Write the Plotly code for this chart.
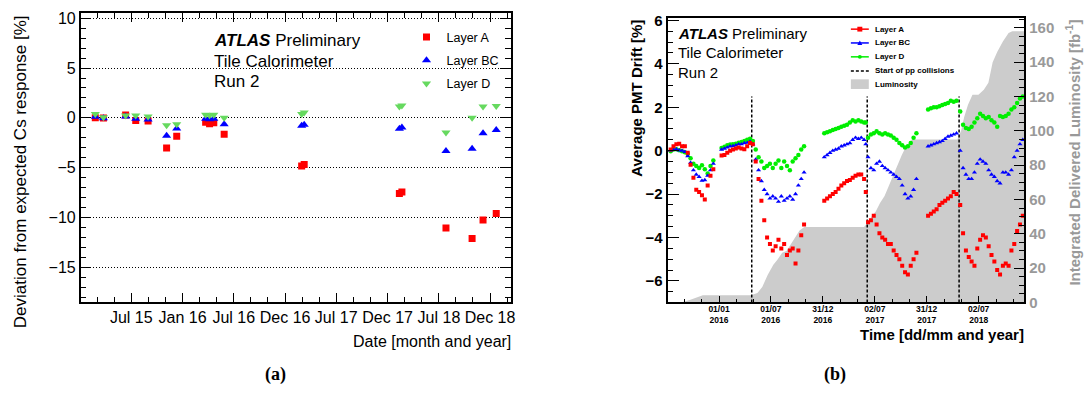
import plotly.graph_objects as go
import pandas as pd

W, H = 1089, 397
FONT = "Liberation Sans, Arial, Helvetica, sans-serif"
SERIF = "Liberation Serif, Times New Roman, serif"

def px(x):
    return x / W

def py(y):
    return 1 - y / H

# ---------------- Panel (a): Cs scans ----------------
cs_dates = ["2015-02-24", "2015-03-25", "2015-06-12", "2015-07-18", "2015-08-31",
            "2015-11-05", "2015-12-11", "2016-03-23", "2016-04-06", "2016-04-21",
            "2016-05-28", "2017-02-28", "2017-03-09", "2018-02-11", "2018-02-20",
            "2018-07-27", "2018-10-28", "2018-12-06", "2019-01-22"]
cs_layer_a = [0.0, -0.02, 0.29, -0.26, -0.32, -3.03, -1.84, -0.45, -0.58, -0.48,
              -1.65, -4.84, -4.68, -7.58, -7.45, -11.05, -12.1, -10.26, -9.6]
cs_layer_bc = [0.12, -0.05, 0.13, -0.1, -0.16, -1.8, -1.06, -0.08, -0.15, -0.1,
               -0.65, -0.8, -0.68, -1.1, -0.97, -3.32, -3.1, -1.55, -1.23]
cs_layer_d = [0.39, 0.06, 0.23, 0.23, 0.13, -0.74, -0.65, 0.32, 0.25, 0.3,
              0.0, 0.39, 0.55, 1.13, 1.23, -1.48, 0.0, 1.13, 1.19]

a_tick_dates = ["2015-07-02", "2016-01-01", "2016-07-01", "2016-12-31",
                "2017-07-01", "2017-12-31", "2018-07-02", "2018-12-31"]
a_tick_labels = ["Jul 15", "Jan 16", "Jul 16", "Dec 16", "Jul 17", "Dec 17", "Jul 18", "Dec 18"]
a_x_range = ["2015-01-03", "2019-03-16"]
a_y_range = [-18.5, 10.55]
a_y_ticks = [-15, -10, -5, 0, 5, 10]

# ---------------- Panel (b): laser PMT drift ----------------
b_dates = [
    # 2015
    "2015-07-15", "2015-07-25", "2015-08-04", "2015-08-14", "2015-08-24", "2015-09-03",
    "2015-09-13", "2015-09-23", "2015-10-03", "2015-10-13", "2015-10-23", "2015-11-02",
    "2015-11-12", "2015-11-22", "2015-12-02", "2015-12-12",
    # early 2016
    "2016-01-10", "2016-01-20", "2016-01-30", "2016-02-09", "2016-02-19", "2016-02-29",
    "2016-03-10", "2016-03-20", "2016-03-30", "2016-04-09", "2016-04-19",
    # 2016 run
    "2016-04-29", "2016-05-09", "2016-05-19", "2016-05-29", "2016-06-08", "2016-06-18",
    "2016-06-28", "2016-07-08", "2016-07-18", "2016-07-28", "2016-08-07", "2016-08-17",
    "2016-08-27", "2016-09-06", "2016-09-16", "2016-09-26", "2016-10-06", "2016-10-16",
    "2016-10-26",
    # early 2017
    "2017-01-05", "2017-01-15", "2017-01-25", "2017-02-04", "2017-02-14", "2017-02-24",
    "2017-03-06", "2017-03-16", "2017-03-26", "2017-04-05", "2017-04-15", "2017-04-25",
    "2017-05-05", "2017-05-15", "2017-05-25", "2017-05-31",
    # 2017 run
    "2017-06-08", "2017-06-18", "2017-06-28", "2017-07-08", "2017-07-18", "2017-07-28",
    "2017-08-07", "2017-08-17", "2017-08-27", "2017-09-06", "2017-09-16", "2017-09-26",
    "2017-10-06", "2017-10-16", "2017-10-26", "2017-11-05", "2017-11-15", "2017-11-25",
    # early 2018
    "2018-01-05", "2018-01-15", "2018-01-25", "2018-02-04", "2018-02-14", "2018-02-24",
    "2018-03-06", "2018-03-16", "2018-03-26", "2018-04-05", "2018-04-15",
    # 2018 run
    "2018-04-28", "2018-05-08", "2018-05-18", "2018-05-28", "2018-06-07", "2018-06-17",
    "2018-06-27", "2018-07-07", "2018-07-17", "2018-07-27", "2018-08-06", "2018-08-16",
    "2018-08-26", "2018-09-05", "2018-09-15", "2018-09-25", "2018-10-05", "2018-10-15",
    "2018-10-25", "2018-11-04", "2018-11-14", "2018-11-24", "2018-12-04",
]
b_layer_a = [
    0.05, 0.2, 0.3, 0.32, 0.2, 0.2, -0.1, -0.65, -1.25, -1.8, -1.9, -2.05, -2.25, -1.6, -1.15, -0.85,
    -0.22, -0.2, -0.1, 0.0, 0.05, 0.1, 0.15, 0.1, 0.07, 0.2, 0.35,
    0.3, -0.5, -1.3, -2.3, -3.2, -4.0, -4.3, -4.6, -4.4, -4.1, -4.5, -4.3, -4.8, -4.6, -4.5, -5.2, -4.6, -3.9, -3.4,
    -2.3, -2.2, -2.1, -2.0, -1.9, -1.75, -1.6, -1.5, -1.4, -1.35, -1.25, -1.15, -1.1, -1.1, -1.3, -1.9,
    -3.3, -3.2, -3.0, -3.4, -3.8, -4.0, -4.1, -4.3, -4.3, -4.6, -4.8, -5.0, -5.3, -5.6, -5.7, -5.3, -5.0, -4.7,
    -3.0, -2.9, -2.8, -2.7, -2.5, -2.4, -2.3, -2.2, -2.1, -1.9, -2.0,
    -2.5, -3.8, -4.6, -4.9, -5.1, -5.3, -4.5, -4.1, -3.9, -4.0, -4.4, -4.8, -5.1, -5.5, -5.7, -5.3, -5.2, -5.3, -4.6, -4.3, -3.7, -3.4, -3.0,
]
b_layer_bc = [
    0.0, 0.05, 0.07, 0.02, 0.0, -0.05, -0.25, -0.55, -0.9, -1.1, -1.2, -1.38, -1.35, -1.15, -0.9, -0.6,
    0.05, 0.1, 0.15, 0.2, 0.22, 0.25, 0.3, 0.3, 0.35, 0.37, 0.42,
    0.3, -0.4, -0.9, -1.4, -1.8, -2.0, -2.2, -2.1, -2.2, -2.35, -2.1, -2.3, -2.2, -2.1, -2.25, -2.0, -1.6, -1.3, -1.0,
    -0.3, -0.2, -0.1, 0.0, 0.05, 0.1, 0.2, 0.25, 0.3, 0.35, 0.5, 0.6, 0.55, 0.6, 0.5, 0.3,
    -0.3, -0.8, -0.9, -0.6, -0.5, -0.7, -0.8, -0.9, -1.0, -1.1, -1.2, -1.3, -1.6, -2.0, -2.2, -2.1, -1.8, -1.3,
    0.2, 0.25, 0.3, 0.35, 0.4, 0.45, 0.55, 0.65, 0.7, 0.75, 0.8,
    0.0, -0.8, -1.1, -1.3, -1.3, -1.0, -0.6, -0.4, -0.5, -0.6, -0.9, -1.1, -1.2, -1.4, -1.5, -1.0, -1.0, -1.1, -0.9, -0.3, 0.0, 0.3, 0.5,
]
b_layer_d = [
    -0.03, 0.05, 0.07, 0.02, -0.03, -0.07, -0.15, -0.35, -0.6, -0.7, -0.8, -0.67, -0.85, -1.05, -0.7, -0.45,
    0.12, 0.18, 0.25, 0.28, 0.3, 0.32, 0.37, 0.4, 0.45, 0.5, 0.55,
    0.45, 0.05, -0.3, -0.5, -0.8, -0.7, -0.6, -0.8, -0.6, -0.45, -0.8, -0.5, -0.7, -0.9, -0.5, -0.35, -0.2, 0.05, 0.2,
    0.8, 0.85, 0.9, 0.95, 1.0, 1.05, 1.1, 1.15, 1.2, 1.3, 1.4, 1.35, 1.4, 1.35, 1.3, 1.3,
    0.6, 0.75, 0.8, 0.9, 0.8, 0.75, 0.8, 0.75, 0.7, 0.6, 0.5, 0.35, 0.25, 0.15, 0.2, 0.35, 0.6, 0.8,
    1.9, 1.95, 2.0, 2.0, 2.05, 2.1, 2.15, 2.2, 2.3, 2.25, 2.3,
    1.8, 1.2, 1.05, 1.0, 1.1, 1.3, 1.5, 1.7, 1.6, 1.5, 1.55, 1.4, 1.3, 1.1, 1.6, 1.55, 1.6, 1.7, 1.9, 2.0, 2.2, 2.4, 2.5,
]

lumi_dates = ["2015-07-04", "2015-08-20", "2015-09-20", "2015-10-20", "2015-11-05", "2016-04-22",
              "2016-05-15", "2016-06-01", "2016-06-20", "2016-07-10", "2016-07-25", "2016-08-10",
              "2016-08-25", "2016-09-10", "2016-09-25", "2016-10-10", "2016-10-27", "2017-05-25",
              "2017-06-05", "2017-06-20", "2017-07-05", "2017-07-20", "2017-08-05", "2017-08-20",
              "2017-09-05", "2017-09-20", "2017-10-05", "2017-10-20", "2017-11-10", "2018-04-18",
              "2018-05-01", "2018-05-12", "2018-05-25", "2018-06-10", "2018-07-01", "2018-07-20",
              "2018-08-05", "2018-08-20", "2018-09-05", "2018-09-25", "2018-10-15", "2018-10-28",
              "2018-12-09"]
lumi_values = [0, 0, 1.5, 3.5, 4.2, 4.2, 5.5, 9, 16, 22, 25, 29, 30, 34, 38, 42, 44, 44,
               46, 50, 53, 58, 62, 68, 75, 80, 86, 91, 95, 95, 100, 108, 115, 121, 121, 124,
               128, 140, 146, 152, 157, 158, 158]

pp_start_dates = ["2016-04-25", "2017-06-05", "2018-04-24"]
pp_line_top = 2.5

b_tick_dates = ["2016-01-01", "2016-07-01", "2016-12-31", "2017-07-02", "2017-12-31", "2018-07-02"]
b_tick_labels = ["01/01<br>2016", "01/07<br>2016", "31/12<br>2016", "02/07<br>2017",
                 "31/12<br>2017", "02/07<br>2018"]
b_x_range = ["2015-07-04", "2018-12-09"]
b_y_range = [-6.99, 6.1]
b_lumi_range = [0, 165.6]

RED, BLUE = "#ff0000", "#0000ff"
GREEN_A, GREEN_B = "#66d95f", "#00ee00"
GRAY_FILL, GRAY_TEXT = "#cccccc", "#999999"


def minor_between(dates, before=1, after=1):
    t = pd.to_datetime(dates)
    step = (t[-1] - t[0]) / (len(t) - 1)
    out = []
    start = t[0] - before * step
    n = len(t) - 1 + before + after
    for i in range(n):
        base = start + i * step
        out.append((base + step / 3).strftime("%Y-%m-%d %H:%M"))
        out.append((base + 2 * step / 3).strftime("%Y-%m-%d %H:%M"))
    return out


fig = go.Figure()

# panel (a)
fig.add_trace(go.Scatter(x=cs_dates, y=cs_layer_a, mode="markers", name="Layer A",
                         marker=dict(symbol="square", size=7, color=RED),
                         xaxis="x", yaxis="y", legendgroup="A"))
fig.add_trace(go.Scatter(x=cs_dates, y=cs_layer_bc, mode="markers", name="Layer BC",
                         marker=dict(symbol="triangle-up", size=8, color=BLUE),
                         xaxis="x", yaxis="y", legendgroup="BC"))
fig.add_trace(go.Scatter(x=cs_dates, y=cs_layer_d, mode="markers", name="Layer D",
                         marker=dict(symbol="triangle-down", size=8, color=GREEN_A),
                         xaxis="x", yaxis="y", legendgroup="D"))

# panel (b)
fig.add_trace(go.Scatter(x=lumi_dates, y=lumi_values, mode="lines", fill="tozeroy",
                         fillcolor=GRAY_FILL, line=dict(width=0, color=GRAY_FILL),
                         xaxis="x2", yaxis="y2", showlegend=False, name="Luminosity"))
vx, vy = [], []
for d in pp_start_dates:
    vx += [d, d, None]
    vy += [b_y_range[0], pp_line_top, None]
fig.add_trace(go.Scatter(x=vx, y=vy, mode="lines", line=dict(color="black", width=1.5, dash="3px,2px"),
                         xaxis="x2", yaxis="y3", showlegend=False, name="Start of pp collisions"))
fig.add_trace(go.Scatter(x=b_dates, y=b_layer_d, mode="markers", name="Layer D",
                         marker=dict(symbol="circle", size=4.5, color=GREEN_B),
                         xaxis="x2", yaxis="y3", showlegend=False))
fig.add_trace(go.Scatter(x=b_dates, y=b_layer_bc, mode="markers", name="Layer BC",
                         marker=dict(symbol="triangle-up", size=4.5, color=BLUE),
                         xaxis="x2", yaxis="y3", showlegend=False))
fig.add_trace(go.Scatter(x=b_dates, y=b_layer_a, mode="markers", name="Layer A",
                         marker=dict(symbol="square", size=4, color=RED),
                         xaxis="x2", yaxis="y3", showlegend=False))

tickfont_a = dict(family=FONT, size=16, color="black")
fig.update_layout(
    width=W, height=H, margin=dict(l=0, r=0, t=0, b=0),
    paper_bgcolor="white", plot_bgcolor="rgba(0,0,0,0)",
    font=dict(family=FONT, color="black"),
    xaxis=dict(type="date", domain=[px(81), px(513)], range=a_x_range, anchor="y",
               tickmode="array", tickvals=a_tick_dates, ticktext=a_tick_labels,
               ticks="inside", ticklen=9, tickwidth=1, tickcolor="black",
               minor=dict(tickmode="array", tickvals=minor_between(a_tick_dates), ticks="inside",
                          ticklen=5, tickwidth=1, tickcolor="black"),
               showline=True, linecolor="black", linewidth=1.5, mirror="allticks",
               showgrid=False, zeroline=False, tickfont=tickfont_a),
    yaxis=dict(domain=[py(307), py(7)], range=a_y_range, anchor="x",
               tickmode="array", tickvals=a_y_ticks, ticks="inside", ticklen=11, tickwidth=1,
               tickcolor="black",
               minor=dict(tickmode="linear", tick0=0, dtick=1, ticks="inside", ticklen=6,
                          tickwidth=1, tickcolor="black"),
               showline=True, linecolor="black", linewidth=1.5, mirror="allticks",
               showgrid=True, gridcolor="black", gridwidth=1, griddash="1px,2px",
               zeroline=False, tickfont=tickfont_a),
    xaxis2=dict(type="date", domain=[px(670), px(1028)], range=b_x_range, anchor="y2",
                tickmode="array", tickvals=b_tick_dates, ticktext=b_tick_labels,
                ticks="inside", ticklen=6, tickwidth=1, tickcolor="black",
                minor=dict(tickmode="array", tickvals=minor_between(b_tick_dates), ticks="inside",
                           ticklen=3, tickwidth=1, tickcolor="black"),
                showline=True, linecolor="black", linewidth=2, mirror=True,
                showgrid=False, zeroline=False, ticklabelstandoff=-3,
                tickfont=dict(family=FONT, size=8.5, color="black", weight="bold")),
    yaxis2=dict(domain=[py(307.3), py(12.7)], range=b_lumi_range, anchor="x2", side="right",
                tickmode="linear", tick0=0, dtick=20, ticks="inside", ticklen=10, tickwidth=1,
                tickcolor="black",
                minor=dict(tickmode="linear", tick0=0, dtick=5, ticks="inside", ticklen=5,
                           tickwidth=1, tickcolor="black"),
                showline=True, linecolor="black", linewidth=2, showgrid=False, zeroline=False,
                tickfont=dict(family=FONT, size=15, color=GRAY_TEXT, weight="bold")),
    yaxis3=dict(overlaying="y2", side="left", anchor="x2", range=b_y_range,
                tickmode="linear", tick0=0, dtick=2, ticks="inside", ticklen=11, tickwidth=1,
                tickcolor="black",
                minor=dict(tickmode="linear", tick0=0, dtick=0.5, ticks="inside", ticklen=5.5,
                           tickwidth=1, tickcolor="black"),
                showline=True, linecolor="black", linewidth=2, showgrid=False, zeroline=False,
                tickfont=dict(family=FONT, size=15, color="black", weight="bold")),
    legend=dict(x=px(408), y=py(17), xanchor="left", yanchor="top", bgcolor="rgba(0,0,0,0)",
                font=dict(family=FONT, size=12.5, color="black"), tracegroupgap=4,
                itemwidth=30),
    showlegend=True,
)

ann = []


def text(x, y, s, size, xanchor="left", yanchor="middle", angle=0, color="black", family=FONT):
    ann.append(dict(x=px(x), y=py(y), xref="paper", yref="paper", text=s, showarrow=False,
                    xanchor=xanchor, yanchor=yanchor, textangle=angle,
                    font=dict(family=family, size=size, color=color)))


# panel (a) texts
text(213, 36, "<b><i>ATLAS</i></b> Preliminary", 17)
text(213, 57.5, "Tile Calorimeter", 17)
text(213, 78.5, "Run 2", 17)
text(20, 7, "Deviation from expected Cs response [%]", 17, xanchor="center", yanchor="top", angle=-90)
text(515, 348, "Date [month and year]", 16, xanchor="right")
text(277, 382, "<b>(a)</b>", 18, xanchor="center", family=SERIF)

# panel (b) texts
text(678, 28, "<b><i>ATLAS</i></b> Preliminary", 15)
text(678, 48.5, "Tile Calorimeter", 15)
text(678, 68.5, "Run 2", 15)
text(638, 12, "<b>Average PMT Drift [%]</b>", 15, xanchor="center", yanchor="top", angle=-90)
text(1077, 12, "<b>Integrated Delivered Luminosity [fb<sup>-1</sup>]</b>", 15, xanchor="center",
     yanchor="top", angle=-90, color=GRAY_TEXT)
text(1030, 340, "<b>Time [dd/mm and year]</b>", 15, xanchor="right")
text(838, 382, "<b>(b)</b>", 18, xanchor="center", family=SERIF)

# panel (b) legend (drawn as decoration)
shapes = []
leg_rows = [24, 38.3, 52.7, 67.3, 81]
leg_x0, leg_x1, leg_tx = 854, 872, 876
leg_names = ["Layer A", "Layer BC", "Layer D", "Start of pp collisions", "Luminosity"]
leg_colors = [RED, BLUE, GREEN_B]
for i, ry in enumerate(leg_rows):
    text(leg_tx, ry, "<b>" + leg_names[i] + "</b>", 8)
for i in range(3):
    ry = leg_rows[i]
    shapes.append(dict(type="line", xref="paper", yref="paper", x0=px(leg_x0), x1=px(leg_x1),
                       y0=py(ry), y1=py(ry), line=dict(color=leg_colors[i], width=1.5)))
cx = (leg_x0 + leg_x1) / 2
shapes.append(dict(type="rect", xref="paper", yref="paper", x0=px(cx - 2.5), x1=px(cx + 2.5),
                   y0=py(leg_rows[0] + 2.5), y1=py(leg_rows[0] - 2.5), fillcolor=RED, line=dict(width=0)))
shapes.append(dict(type="path", xref="paper", yref="paper",
                   path="M {} {} L {} {} L {} {} Z".format(px(cx - 2.5), py(leg_rows[1] + 2),
                                                         px(cx + 2.5), py(leg_rows[1] + 2),
                                                         px(cx), py(leg_rows[1] - 2.5)),
                   fillcolor=BLUE, line=dict(width=0)))
shapes.append(dict(type="circle", xref="paper", yref="paper", x0=px(cx - 2), x1=px(cx + 2),
                   y0=py(leg_rows[2] + 2), y1=py(leg_rows[2] - 2), fillcolor=GREEN_B, line=dict(width=0)))
shapes.append(dict(type="line", xref="paper", yref="paper", x0=px(leg_x0), x1=px(leg_x1),
                   y0=py(leg_rows[3]), y1=py(leg_rows[3]), line=dict(color="black", width=1.5, dash="3px,2px")))
shapes.append(dict(type="rect", xref="paper", yref="paper", x0=px(leg_x0), x1=px(leg_x1),
                   y0=py(leg_rows[4] + 5), y1=py(leg_rows[4] - 5), fillcolor=GRAY_FILL, line=dict(width=0)))

fig.update_layout(annotations=ann, shapes=shapes)
fig.write_html("out.html", config={"displayModeBar": False},
               post_script="document.body.style.margin='0px';")
